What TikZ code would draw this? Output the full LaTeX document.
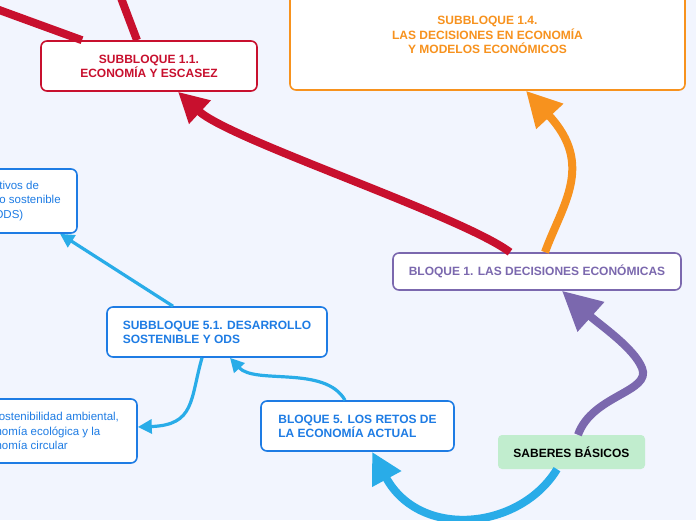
\documentclass[tikz,border=0pt]{standalone}
\usepackage{fontspec}
\setmainfont{Liberation Sans}
\usetikzlibrary{arrows.meta}

\definecolor{bgc}{RGB}{242,245,254}
\definecolor{rojo}{RGB}{200,16,46}
\definecolor{naranja}{RGB}{247,146,30}
\definecolor{morado}{RGB}{123,104,174}
\definecolor{azul}{RGB}{30,124,228}
\definecolor{celeste}{RGB}{41,172,232}
\definecolor{verde}{RGB}{193,237,206}

\begin{document}
\begin{tikzpicture}[x=1pt,y=-1pt,
        card/.style={draw=#1,text=#1,rounded corners=6pt,fill=white,line width=1.6pt,inner sep=0pt},
        title/.style={font=\bfseries\fontsize{12}{14}\selectfont},
        plain/.style={font=\fontsize{11.5}{14.5}\selectfont},
        big/.style={line width=8pt},
        thin/.style={line width=3.2pt,celeste,-{Triangle[length=14pt,width=14pt]}}]

  \useasboundingbox[fill=bgc] (0,0) rectangle (696,520);

  % nodes
  \node[card=rojo,title,minimum width=216pt,minimum height=50pt,align=center]
        (sub11) at (149,66) {SUBBLOQUE 1.1.\\ECONOMÍA Y ESCASEZ};
  \node[card=naranja,title,minimum width=395pt,minimum height=110pt,align=center,
        font=\bfseries\fontsize{12}{14.5}\selectfont]
        (sub14) at (487.5,35) {SUBBLOQUE 1.4.\\LAS DECISIONES EN ECONOMÍA\\Y MODELOS ECONÓMICOS};
  \node[card=morado,title,minimum width=288pt,minimum height=37pt]
        (blq1) at (537,271.5) {BLOQUE 1. LAS DECISIONES ECONÓMICAS};
  \node[card=azul,plain,minimum width=140pt,minimum height=64pt,align=center]
        (ods) at (7,201) {Objetivos de\\Desarrollo sostenible\\(ODS)};
  \node[card=azul,plain,minimum width=178pt,minimum height=64pt,align=left]
        (sost) at (48,431) {La sostenibilidad ambiental,\\economía ecológica y la\\economía circular};
  \node[card=azul,title,minimum width=220pt,minimum height=50pt,align=left]
        (sub51) at (217,332) {SUBBLOQUE 5.1. DESARROLLO\\SOSTENIBLE Y ODS};
  \node[card=azul,title,minimum width=193pt,minimum height=50pt,align=left]
        (blq5) at (357.5,426) {BLOQUE 5. LOS RETOS DE\\LA ECONOMÍA ACTUAL};
  \node[title,fill=verde,rounded corners=4pt,minimum width=147pt,minimum height=34pt]
        (sab) at (571.5,452) {SABERES BÁSICOS};

  \coordinate (out1) at (-20,3);
  \coordinate (out2) at (118,-10);

  % links
  \draw[big,rojo] ([xshift=-67pt]sub11.north) -- (out1);
  \draw[big,rojo] ([xshift=-12pt]sub11.north) -- (out2);
  \draw[big,rojo,-{Triangle[length=30pt,width=30pt]}]
        ([xshift=-27pt]blq1.north) .. controls (460,215) and (230,140) .. ([xshift=29pt]sub11.south);
  \draw[big,naranja,-{Triangle[length=35pt,width=35pt]}]
        ([xshift=8pt]blq1.north) .. controls (562,205) and (595,165) .. ([xshift=38.5pt]sub14.south);
  \draw[big,morado,-{Triangle[length=39pt,width=38pt]}]
        ([xshift=6.5pt]sab.north) .. controls (592,395) and (652,392) .. (642,368)
        .. controls (634,348) and (600,325) .. ([xshift=25pt]blq1.south);
  \draw[big,celeste,-{Triangle[length=31pt,width=31pt]}]
        ([xshift=-14.5pt]sab.south) .. controls (520,530) and (420,540) .. ([xshift=14.5pt]blq5.south);
  \draw[thin] ([xshift=-12.5pt]blq5.north) .. controls (325,365) and (255,385) .. ([xshift=13pt]sub51.south);
  \draw[thin] ([xshift=-15pt]sub51.south) .. controls (190,400) and (195,425) .. ([yshift=4pt]sost.east);
  \draw[thin] ([xshift=-44pt]sub51.north) -- ([xshift=53pt]ods.south);

\end{tikzpicture}
\end{document}
